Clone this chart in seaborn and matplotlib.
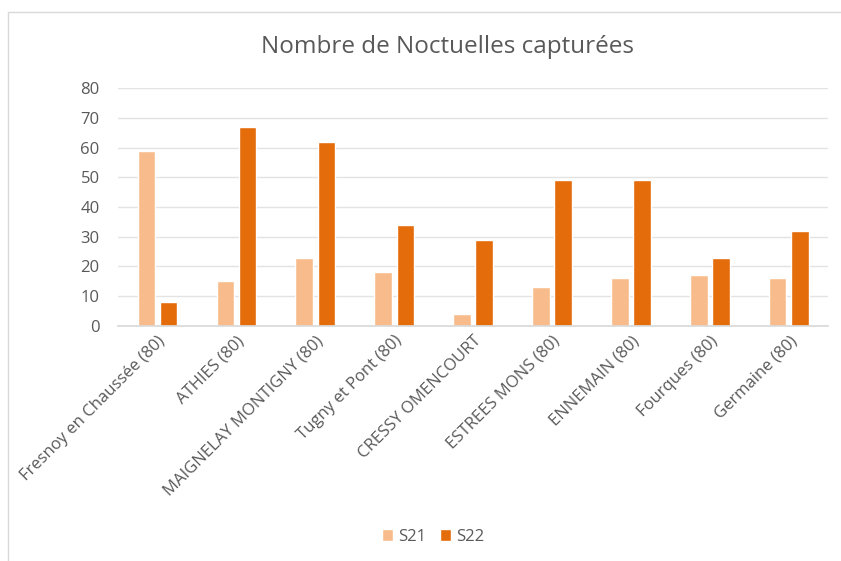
import matplotlib
matplotlib.use("Agg")
import matplotlib.pyplot as plt
import seaborn as sns
import pandas as pd
from matplotlib.patches import Rectangle

categories = ["Fresnoy en Chaussée (80)", "ATHIES (80)", "MAIGNELAY MONTIGNY (80)",
              "Tugny et Pont (80)", "CRESSY OMENCOURT", "ESTREES MONS (80)",
              "ENNEMAIN (80)", "Fourques (80)", "Germaine (80)"]
s21 = [59, 15, 23, 18, 4, 13, 16, 17, 16]
s22 = [8, 67, 62, 34, 29, 49, 49, 23, 32]
series = ["S21", "S22"]
colors = ["#F8BC8C", "#E46C0A"]
title = "Nombre de Noctuelles capturées"

df = pd.DataFrame({
    "site": categories * 2,
    "value": s21 + s22,
    "serie": ["S21"] * len(categories) + ["S22"] * len(categories),
})

sns.set_theme(style="white")
plt.rcParams['font.family'] = ['Open Sans', 'DejaVu Sans']

fig = plt.figure(figsize=(8.41, 5.61), dpi=100)
ax = fig.add_axes([0.140, 0.419, 0.845, 0.424])

sns.barplot(data=df, x="site", y="value", hue="serie", hue_order=series,
            palette=colors, width=0.56, gap=0.22, ax=ax, saturation=1)

ax.set_ylim(0, 80)
ax.set_yticks(range(0, 81, 10))
ax.yaxis.grid(True, color="#E3E3E3", linewidth=1)
ax.set_axisbelow(True)
for s in ["top", "right", "left"]:
    ax.spines[s].set_visible(False)
ax.spines["bottom"].set_color("#D9D9D9")
ax.set_xlabel("")
ax.set_ylabel("")
ax.tick_params(axis="y", colors="#595959", labelsize=12, length=0, pad=13)
ax.tick_params(axis="x", colors="#595959", labelsize=12, length=0, pad=5)
plt.setp(ax.get_xticklabels(), rotation=45, ha="right", rotation_mode="anchor")
ax.set_xlim(-0.5, len(categories) - 0.5)

fig.text(0.532, 0.916, title, ha="center", va="center", fontsize=17.5, color="#595959")

handles, labels = ax.get_legend_handles_labels()
ax.legend_.remove()
fig.legend(handles, labels, loc="center", bbox_to_anchor=(0.515, 0.043), ncol=2,
           frameon=False, fontsize=12, labelcolor="#595959", handlelength=0.7,
           handleheight=0.7, columnspacing=0.8, handletextpad=0.3)

fig.patches.append(Rectangle((8 / 841, -0.01), 1.0, 1 - 12 / 561 + 0.01,
                             transform=fig.transFigure, fill=False,
                             edgecolor="#D9D9D9", linewidth=1))

fig.savefig("out.png", dpi=100)
